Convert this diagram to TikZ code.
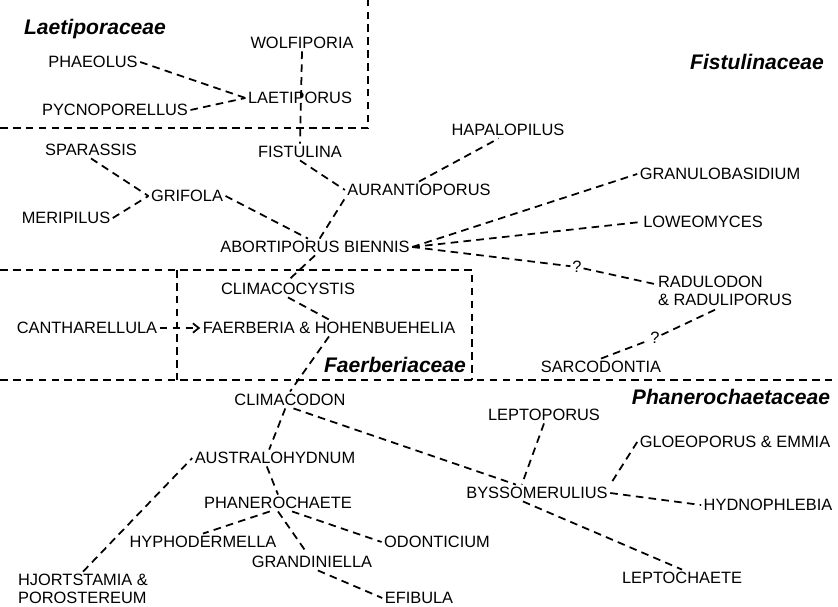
\documentclass[tikz,border=0pt]{standalone}
\usepackage{fontspec}
\setmainfont{Liberation Sans}
\usetikzlibrary{arrows.meta}

\begin{document}
\begin{tikzpicture}[
  x=0.03cm, y=-0.03cm,
  >={Straight Barb[length=5pt,width=8pt]},
  taxon/.style={font=\fontsize{14}{15.3}\selectfont, inner sep=2pt, text height=10pt, text depth=0pt},
  taxonpair/.style={font=\fontsize{14}{15.3}\selectfont, inner sep=2pt, align=left},
  family/.style={font=\fontsize{18}{20}\selectfont\bfseries\itshape, inner sep=2pt, text height=12.9pt, text depth=0pt},
  query/.style={font=\fontsize{14}{15.3}\selectfont, inner sep=1.5pt, text height=10pt, text depth=0pt},
  link/.style={draw=black, line width=1.5pt, dash pattern=on 6.5pt off 4.5pt},
  bound/.style={draw=black, line width=1.4pt, dash pattern=on 6.5pt off 4.5pt}
]
  \useasboundingbox (0,0) rectangle (838,606);

  \draw[bound] (0,128) -- (368,128) -- (368,0);
  \draw[bound] (0,270) -- (472,270) -- (472,380);
  \draw[bound] (177,270) -- (177,380);
  \draw[bound] (0,380) -- (838,380);

  \node[family] (laetfam) at (95,27) {Laetiporaceae};
  \node[family] (fistfam) at (757,62) {Fistulinaceae};
  \node[family] (faerfam) at (395,365) {Faerberiaceae};
  \node[family] (phanfam) at (731,397) {Phanerochaetaceae};

  \node[taxon] (wolf) at (302,43) {WOLFIPORIA};
  \node[taxon] (phae) at (93,62) {PHAEOLUS};
  \node[taxon] (laet) at (300,98) {LAETIPORUS};
  \node[taxon] (pycn) at (115,110) {PYCNOPORELLUS};
  \node[taxon] (fist) at (300,152) {FISTULINA};
  \node[taxon] (aur) at (419,190) {AURANTIOPORUS};
  \node[taxon] (hapa) at (508,130) {HAPALOPILUS};
  \node[taxon] (gran) at (720,174) {GRANULOBASIDIUM};
  \node[taxon] (lowe) at (703,222) {LOWEOMYCES};
  \node[taxon] (spar) at (91,150) {SPARASSIS};
  \node[taxon] (grif) at (187,196) {GRIFOLA};
  \node[taxon] (meri) at (66,218) {MERIPILUS};
  \node[taxon] (abor) at (315,247) {ABORTIPORUS BIENNIS};
  \node[taxon] (clcy) at (288,289) {CLIMACOCYSTIS};
  \node[taxon] (cant) at (87,328) {CANTHARELLULA};
  \node[taxon] (faer) at (329,328) {FAERBERIA \& HOHENBUEHELIA};
  \node[taxon] (sarc) at (601,367) {SARCODONTIA};
  \node[taxonpair] (radu) at (725,291) {RADULODON\\\& RADULIPORUS};
  \node[query] (q1) at (577,267) {?};
  \node[query] (q2) at (655,338) {?};
  \node[taxon] (clmd) at (290,400) {CLIMACODON};
  \node[taxon] (lepp) at (544,415) {LEPTOPORUS};
  \node[taxon] (gloe) at (735,442) {GLOEOPORUS \& EMMIA};
  \node[taxon] (byss) at (537,493) {BYSSOMERULIUS};
  \node[taxon] (hydn) at (768,505) {HYDNOPHLEBIA};
  \node[taxon] (lepc) at (682,578) {LEPTOCHAETE};
  \node[taxon] (aust) at (275,458) {AUSTRALOHYDNUM};
  \node[taxon] (phan) at (278,503) {PHANEROCHAETE};
  \node[taxon] (hyph) at (203,542) {HYPHODERMELLA};
  \node[taxon] (odon) at (437,542) {ODONTICIUM};
  \node[taxon] (grnd) at (312,562) {GRANDINIELLA};
  \node[taxonpair] (hjor) at (83,589) {HJORTSTAMIA \&\\POROSTEREUM};
  \node[taxon] (efib) at (419,598) {EFIBULA};

  \draw[link] (phae.east) -- (laet.west);
  \draw[link] (pycn.east) -- (laet.west);
  \draw[link] (wolf.south) -- (fist.north);
  \draw[link] (fist.south) -- (aur.west);
  \draw[link] (aur.north) -- ([xshift=-8pt]hapa.south);
  \draw[link] (spar.south) -- (grif.west);
  \draw[link] (meri.east) -- (grif.west);
  \draw[link] (grif.east) -- ([xshift=-6pt]abor.north);
  \draw[link] ([xshift=4pt]abor.north) -- (aur.south west);
  \draw[link] (abor.east) -- (gran.west);
  \draw[link] (abor.east) -- (lowe.west);
  \draw[link] (abor.east) -- (q1) -- ([yshift=-9pt]radu.north west);
  \draw[link] (sarc.north) -- (q2) -- ([xshift=-6pt]radu.south);
  \draw[link] (abor.south) -- (clcy.north);
  \draw[link] (clcy.south) -- (faer.north);
  \draw[link] (faer.south) -- (clmd.north);
  \draw[link, ->] (cant.east) -- (faer.west);

  \draw[link] ([xshift=-4pt]clmd.south) -- ([xshift=-5pt]aust.north);
  \draw[link] ([xshift=3pt]clmd.south) -- ([xshift=-18pt]byss.north);
  \draw[link] (lepp.south) -- ([xshift=-13pt]byss.north);
  \draw[link] (gloe.west) -- (byss.north east);
  \draw[link] (byss.east) -- (hydn.west);
  \draw[link] ([xshift=-12pt]byss.south) -- (lepc.north);
  \draw[link] (hjor.north) -- (aust.west);
  \draw[link] ([xshift=-7pt]aust.south) -- (phan.north);
  \draw[link] ([xshift=-7pt]phan.south) -- (hyph.north);
  \draw[link] ([xshift=12pt]phan.south) -- (odon.west);
  \draw[link] (phan.south) -- ([xshift=-4pt]grnd.north);
  \draw[link] ([xshift=5pt]grnd.south) -- (efib.west);
\end{tikzpicture}
\end{document}
